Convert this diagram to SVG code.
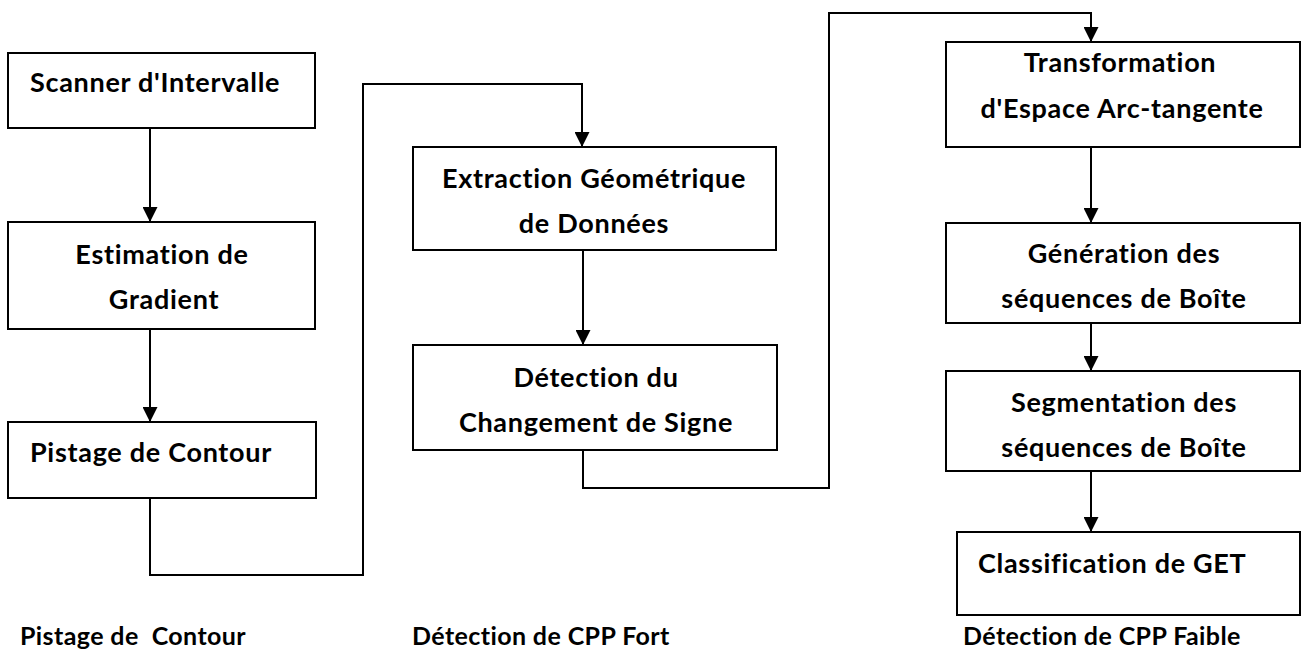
<svg xmlns="http://www.w3.org/2000/svg" width="1305" height="651" viewBox="0 0 1305 651">
<style>
.box{fill:#fff;stroke:#000;stroke-width:2}
.t{font-family:Lato,"Open Sans","Liberation Sans",sans-serif;font-weight:bold;font-size:27px;letter-spacing:0.7px;fill:#000}
.b{font-size:25px;letter-spacing:0.4px}
.c{text-anchor:middle}
.ln{fill:none;stroke:#000;stroke-width:2}
</style>
<defs>
<marker id="ah" markerWidth="15" markerHeight="15" refX="15" refY="7.5" orient="auto" markerUnits="userSpaceOnUse">
<path d="M0,0 L15,7.5 L0,15 Z" fill="#000"/>
</marker>
</defs>
<rect width="1305" height="651" fill="#fff"/>
<g id="connectors">
<path class="ln" d="M150,128 V222" marker-end="url(#ah)"/>
<path class="ln" d="M150,329 V422" marker-end="url(#ah)"/>
<path class="ln" d="M150,498 V575 H363 V84 H582 V147" marker-end="url(#ah)"/>
<path class="ln" d="M583,250 V345" marker-end="url(#ah)"/>
<path class="ln" d="M583,450 V488 H829 V13 H1091 V42" marker-end="url(#ah)"/>
<path class="ln" d="M1091,147 V223" marker-end="url(#ah)"/>
<path class="ln" d="M1091,323 V371" marker-end="url(#ah)"/>
<path class="ln" d="M1091,471 V532" marker-end="url(#ah)"/>
</g>
<g id="n1"><rect class="box" x="8" y="53" width="307" height="75"/><text class="t" x="30" y="92">Scanner d'Intervalle</text></g>
<g id="n2"><rect class="box" x="8" y="222" width="307" height="107"/><text class="t c" x="162" y="264">Estimation de</text><text class="t c" x="164" y="309">Gradient</text></g>
<g id="n3"><rect class="box" x="8" y="422" width="308" height="76"/><text class="t" x="30" y="462">Pistage de Contour</text></g>
<g id="n4"><rect class="box" x="413" y="147" width="363" height="103"/><text class="t c" x="594" y="188">Extraction Géométrique</text><text class="t c" x="594" y="233">de Données</text></g>
<g id="n5"><rect class="box" x="413" y="345" width="364" height="105"/><text class="t c" x="596" y="387">Détection du</text><text class="t c" x="596" y="432">Changement de Signe</text></g>
<g id="n6"><rect class="box" x="946" y="42" width="354" height="105"/><text class="t c" x="1120" y="72">Transformation</text><text class="t c" x="1122" y="118">d'Espace Arc-tangente</text></g>
<g id="n7"><rect class="box" x="946" y="223" width="354" height="100"/><text class="t c" x="1124" y="263">Génération des</text><text class="t c" x="1124" y="308">séquences de Boîte</text></g>
<g id="n8"><rect class="box" x="946" y="371" width="354" height="100"/><text class="t c" x="1124" y="412">Segmentation des</text><text class="t c" x="1124" y="457">séquences de Boîte</text></g>
<g id="n9"><rect class="box" x="957" y="532" width="343" height="83"/><text class="t" x="978" y="573">Classification de GET</text></g>
<g id="labels">
<text class="t b" x="20" y="645" xml:space="preserve">Pistage de  Contour</text>
<text class="t b" x="412" y="645">Détection de CPP Fort</text>
<text class="t b" x="963" y="645">Détection de CPP Faible</text>
</g>
</svg>
